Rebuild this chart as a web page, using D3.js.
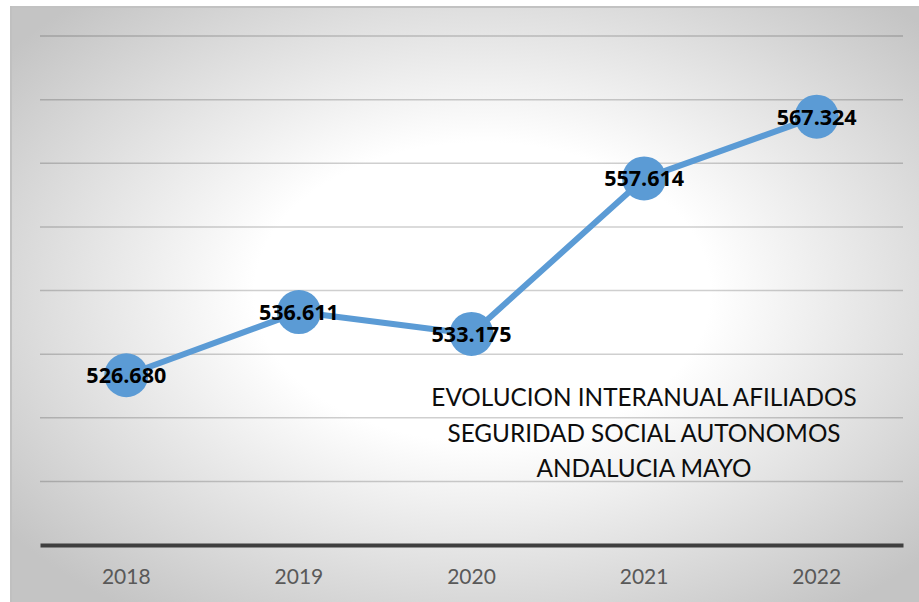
<!DOCTYPE html>
<html>
<head>
<meta charset="utf-8">
<script src="https://cdn.jsdelivr.net/npm/d3@7"></script>
<style>
  body { margin: 0; background: #fff; }
  svg { display: block; }
</style>
</head>
<body>
<div id="chart"></div>
<script>
var years = ["2018", "2019", "2020", "2021", "2022"];
var afiliados = [526680, 536611, 533175, 557614, 567324];
var yTicks = [500000, 510000, 520000, 530000, 540000, 550000, 560000, 570000, 580000];
var titleLines = ["EVOLUCION INTERANUAL AFILIADOS", "SEGURIDAD SOCIAL AUTONOMOS", "ANDALUCIA MAYO"];

var width = 919, height = 602;
var svg = d3.select("#chart").append("svg").attr("width", width).attr("height", height);

// fondo con degradado radial
var defs = svg.append("defs");
var grad = defs.append("radialGradient").attr("id", "bg")
    .attr("cx", "52%").attr("cy", "48%").attr("r", "66%");
grad.append("stop").attr("offset", "0%").attr("stop-color", "#ffffff");
grad.append("stop").attr("offset", "38%").attr("stop-color", "#ffffff");
grad.append("stop").attr("offset", "100%").attr("stop-color", "#c4c4c4");

svg.append("rect").attr("x", 10).attr("y", 6).attr("width", width - 10).attr("height", height - 6)
    .attr("fill", "url(#bg)");
svg.append("line").attr("x1", 10).attr("x2", width).attr("y1", 7).attr("y2", 7)
    .attr("stroke", "#c2c2c2").attr("stroke-width", 2);
svg.append("line").attr("x1", 11).attr("x2", 11).attr("y1", 6).attr("y2", height)
    .attr("stroke", "#c0c0c0").attr("stroke-width", 2);

var plot = { left: 40, right: 903, top: 36, bottom: 545 };

var x = d3.scaleBand().domain(years).range([plot.left, plot.right]);
var y = d3.scaleLinear().domain([500000, 580000]).range([plot.bottom, plot.top]);

// lineas de cuadricula
svg.append("g").selectAll("line").data(yTicks.slice(1)).enter().append("line")
    .attr("x1", plot.left).attr("x2", plot.right)
    .attr("y1", function (d) { return y(d); }).attr("y2", function (d) { return y(d); })
    .attr("stroke", "#000").attr("stroke-opacity", 0.19).attr("stroke-width", 1.5);

// eje x
var xAxis = svg.append("g").attr("transform", "translate(0," + plot.bottom + ")")
    .call(d3.axisBottom(x).tickSize(0).tickPadding(24));
xAxis.select(".domain").attr("stroke", "#3f3f3f").attr("stroke-width", 4);
xAxis.selectAll("text").attr("fill", "#595959").attr("font-size", 21)
    .attr("font-family", "Lato, 'Open Sans', sans-serif");

// titulo
svg.append("g").selectAll("text").data(titleLines).enter().append("text")
    .attr("x", 644).attr("y", function (d, i) { return 406 + i * 35.5; })
    .attr("text-anchor", "middle")
    .attr("font-family", "Lato, 'Open Sans', sans-serif").attr("font-size", 24.3)
    .attr("fill", "#0d0d0d")
    .text(function (d) { return d; });

var pts = years.map(function (d, i) { return { year: d, value: afiliados[i] }; });

var line = d3.line()
    .x(function (d) { return x(d.year) + x.bandwidth() / 2; })
    .y(function (d) { return y(d.value); });

svg.append("path").datum(pts).attr("d", line)
    .attr("fill", "none").attr("stroke", "#5b9bd5").attr("stroke-width", 6)
    .attr("stroke-linejoin", "round");

svg.append("g").selectAll("circle").data(pts).enter().append("circle")
    .attr("cx", function (d) { return x(d.year) + x.bandwidth() / 2; })
    .attr("cy", function (d) { return y(d.value); })
    .attr("r", 22).attr("fill", "#5b9bd5");

var fmt = d3.formatLocale({ decimal: ",", thousands: ".", grouping: [3], currency: ["", "€"] }).format(",d");

svg.append("g").selectAll("text").data(pts).enter().append("text")
    .attr("x", function (d) { return x(d.year) + x.bandwidth() / 2; })
    .attr("y", function (d) { return y(d.value) + 8; })
    .attr("text-anchor", "middle")
    .attr("font-family", "'Open Sans', Lato, sans-serif").attr("font-weight", "bold")
    .attr("font-size", 21.5).attr("fill", "#000")
    .text(function (d) { return fmt(d.value); });
</script>
</body>
</html>
